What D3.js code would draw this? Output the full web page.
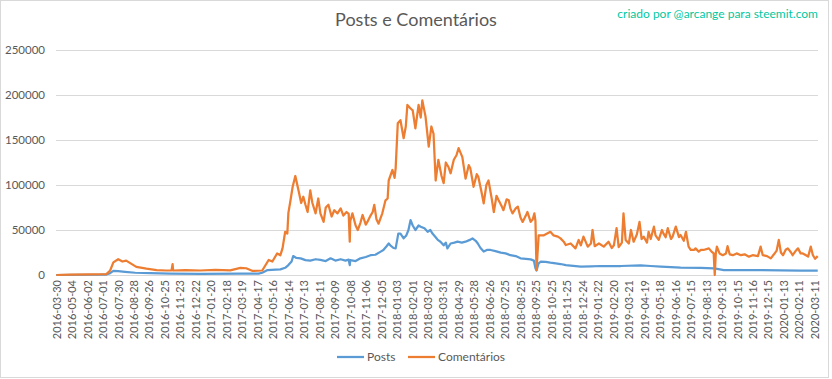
<!DOCTYPE html>
<html><head><meta charset="utf-8">
<script src="https://cdn.jsdelivr.net/npm/d3@7"></script>
<style>body{margin:0;background:#fff}svg{display:block;font-family:Lato,"Open Sans",sans-serif}</style>
</head><body><svg id="c" width="832" height="379"></svg>
<script>
const tickLabels = ["2016-03-30","2016-05-04","2016-06-02","2016-07-01","2016-07-30","2016-08-28","2016-09-26","2016-10-25","2016-11-23","2016-12-22","2017-01-20","2017-02-18","2017-03-19","2017-04-17","2017-05-16","2017-06-14","2017-07-13","2017-08-11","2017-09-09","2017-10-08","2017-11-06","2017-12-05","2018-01-03","2018-02-01","2018-03-02","2018-03-31","2018-04-29","2018-05-28","2018-06-26","2018-07-25","2018-08-25","2018-09-25","2018-10-25","2018-11-25","2018-12-24","2019-01-22","2019-02-20","2019-03-21","2019-04-19","2019-05-18","2019-06-16","2019-07-15","2019-08-13","2019-09-13","2019-10-15","2019-11-16","2019-12-15","2020-01-13","2020-02-11","2020-03-11"];
const labelStep = 29;
const dayCount = 1428;
const yTicks = [0,50000,100000,150000,200000,250000];

// [day index, value]
const posts = [[0,0],[83,300],[94,500],[101,2000],[107,4500],[116,4200],[129,3500],[148,2500],[176,2000],[214,1500],[270,1300],[345,1500],[379,1500],[386,2500],[396,5500],[411,6000],[420,6300],[429,8000],[435,11000],[441,15000],[444,21000],[450,19000],[458,18500],[467,16500],[476,16000],[486,17500],[495,16700],[505,15500],[514,18500],[523,16000],[533,17500],[542,16000],[548,17000],[550,11000],[551,16500],[561,15500],[570,18500],[580,20000],[589,22000],[598,22500],[608,26000],[613,27800],[619,32000],[623,35000],[626,33000],[632,30000],[636,29600],[641,46000],[645,46000],[651,40700],[656,44000],[660,50000],[664,61000],[668,55000],[673,50000],[679,55000],[683,53700],[690,52000],[696,48000],[701,50000],[705,46000],[711,42000],[715,39000],[720,37000],[726,33000],[730,36000],[733,29600],[739,35000],[746,36000],[752,37000],[760,36000],[767,37000],[775,39000],[780,40700],[786,38000],[790,35000],[795,30000],[801,26000],[808,28000],[814,27800],[823,26500],[833,24800],[842,24000],[851,22000],[861,21000],[870,18500],[880,18000],[889,17400],[895,16000],[898,7400],[900,5000],[904,13000],[908,14800],[917,14500],[926,13700],[936,13000],[945,12200],[955,11000],[964,10400],[983,9300],[1002,9600],[1020,10000],[1058,10000],[1095,10700],[1114,10000],[1133,9300],[1152,8700],[1170,8100],[1208,8000],[1232,7400],[1236,7000],[1251,5500],[1283,5500],[1320,5500],[1358,5200],[1395,4800],[1427,4800]];

const comentarios = [[0,0],[26,300],[64,600],[94,1000],[101,5000],[107,14000],[116,17500],[124,15000],[131,16000],[150,9000],[169,7000],[188,5500],[206,5000],[216,5200],[218,12000],[219,5000],[242,5500],[270,5000],[298,5800],[326,5200],[345,8000],[356,7500],[368,4500],[386,5000],[398,16700],[405,15000],[414,24000],[420,22000],[424,29600],[429,48000],[433,46000],[435,69000],[439,83000],[443,98000],[448,110000],[454,94000],[459,80000],[463,87000],[467,78000],[471,70000],[476,94000],[480,80000],[486,68500],[491,85000],[495,68500],[501,59000],[505,75000],[510,78000],[516,65000],[521,72000],[527,68500],[533,74000],[538,66000],[544,70000],[548,68000],[550,37000],[551,60000],[555,68500],[561,55000],[565,50000],[570,58000],[574,66700],[580,56000],[583,59000],[589,66000],[593,70000],[596,78000],[600,62000],[604,57000],[611,68500],[617,83000],[621,85000],[623,105000],[626,110000],[630,116700],[634,108000],[636,118500],[640,168500],[645,172000],[651,152000],[655,165000],[658,189000],[664,185000],[668,183000],[673,163000],[679,189000],[683,175000],[686,194000],[692,176000],[698,142600],[703,165000],[707,157000],[711,105000],[716,128000],[722,110000],[726,102000],[730,125000],[735,120000],[739,113000],[745,128000],[750,133000],[754,141000],[761,131000],[767,107000],[773,122000],[776,118500],[782,98000],[788,112000],[791,109000],[797,92000],[801,79600],[806,100000],[810,105000],[816,85000],[820,70000],[825,88000],[829,83000],[835,76000],[838,72000],[844,84000],[848,83000],[851,74000],[855,68500],[861,74000],[865,76000],[870,64000],[874,59000],[880,66000],[883,70000],[889,59000],[893,62000],[896,68500],[898,60000],[900,5500],[904,44000],[913,44000],[926,48000],[932,44000],[940,42600],[945,40700],[951,37000],[955,33300],[964,35000],[973,29600],[979,38900],[983,33000],[988,42600],[996,31500],[1002,35000],[1005,50000],[1009,32000],[1017,35000],[1026,31500],[1035,37000],[1041,30000],[1045,33000],[1050,52000],[1054,31000],[1060,36000],[1063,68500],[1067,39000],[1073,35000],[1077,50000],[1082,37000],[1088,45000],[1093,59000],[1097,40000],[1101,42600],[1107,36000],[1110,48000],[1114,40000],[1120,53700],[1123,44000],[1129,39000],[1135,50000],[1138,46000],[1142,42000],[1146,52000],[1152,40000],[1155,42600],[1161,53700],[1167,42000],[1170,44400],[1176,38000],[1180,48000],[1185,31500],[1189,27800],[1195,27800],[1198,29600],[1204,26000],[1208,28000],[1213,27800],[1223,29600],[1228,26000],[1232,24000],[1234,0],[1236,24000],[1238,31500],[1243,24000],[1249,22000],[1255,24000],[1258,32000],[1262,23000],[1268,22000],[1275,24000],[1283,22000],[1290,23000],[1298,20400],[1305,22000],[1315,21000],[1320,31500],[1324,22000],[1332,21000],[1339,18500],[1345,23000],[1350,27000],[1354,39000],[1358,25000],[1362,22000],[1367,28000],[1371,29600],[1377,25000],[1380,22000],[1386,27000],[1390,29600],[1395,24000],[1399,24000],[1405,22000],[1409,20400],[1414,31500],[1418,22000],[1422,18000],[1427,21000]];

const svg = d3.select("#c");
const plotLeft = 56, plotRight = 818, plotTop = 50, plotBottom = 275;
const step = (plotRight - plotLeft) / dayCount;
const x = d3.scaleLinear().domain([0, dayCount - 1]).range([plotLeft + step/2, plotRight - step/2]);
const y = d3.scaleLinear().domain([0, 250000]).range([plotBottom, plotTop]);
const grey = "#595959";

svg.append("rect").attr("x",0.5).attr("y",0.5).attr("width",828).attr("height",377)
  .attr("fill","#fff").attr("stroke","#d9d9d9");

svg.append("text").attr("x",416).attr("y",26).attr("text-anchor","middle")
  .attr("font-size",18).attr("fill",grey).text("Posts e Comentários");
svg.append("text").attr("x",818).attr("y",18).attr("text-anchor","end")
  .attr("font-size",12).attr("fill","#00c8a0").text("criado por @arcange para steemit.com");

const ga = svg.append("g").attr("transform",`translate(${plotLeft},0)`)
  .call(d3.axisLeft(y).tickValues(yTicks).tickSize(-(plotRight-plotLeft)).tickFormat(d3.format("d")).tickPadding(11));
ga.select(".domain").remove();
ga.selectAll("line").attr("stroke","#d9d9d9");
ga.selectAll("text").attr("fill",grey).attr("font-size",11.5).attr("font-family","Lato,sans-serif");

const tickIdx = tickLabels.map((d,i)=>i*labelStep);
const gx = svg.append("g").attr("transform",`translate(0,${plotBottom})`)
  .call(d3.axisBottom(x).tickValues(tickIdx).tickSize(0).tickFormat((d,i)=>tickLabels[i]));
gx.select(".domain").attr("d",`M${plotLeft},0.5H${plotRight}`).attr("stroke","#d9d9d9");
gx.selectAll("text").attr("fill",grey).attr("font-size",11).attr("font-family","Lato,sans-serif")
  .attr("transform","rotate(-90)").attr("text-anchor","end").attr("x",-5).attr("y",0).attr("dy","0.35em");

const line = d3.line().x(d=>x(d[0])).y(d=>y(d[1]));
svg.append("path").datum(posts).attr("d",line).attr("fill","none").attr("stroke","#5b9bd5").attr("stroke-width",2.25).attr("stroke-linejoin","round");
svg.append("path").datum(comentarios).attr("d",line).attr("fill","none").attr("stroke","#ed7d31").attr("stroke-width",2.25).attr("stroke-linejoin","round");

const legend = [["Posts","#5b9bd5",337],["Comentários","#ed7d31",408]];
legend.forEach(([name,color,lx])=>{
  svg.append("line").attr("x1",lx).attr("x2",lx+27).attr("y1",357).attr("y2",357).attr("stroke",color).attr("stroke-width",2.25);
  svg.append("text").attr("x",lx+30).attr("y",357).attr("dy","0.35em").attr("font-size",12).attr("fill",grey).text(name);
});
</script></body></html>
